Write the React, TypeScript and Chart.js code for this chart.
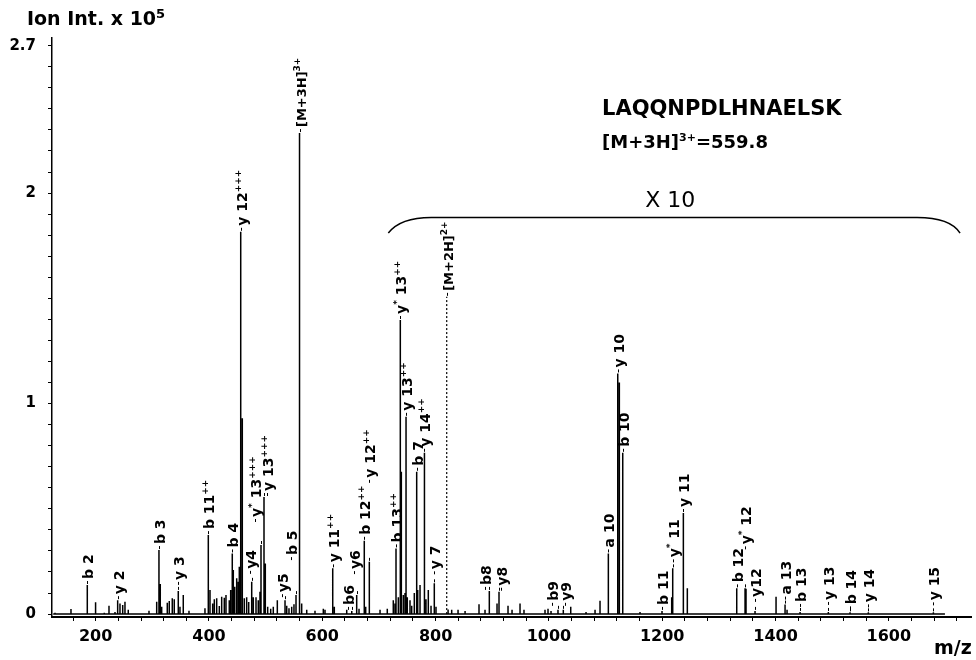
import { useEffect, useRef } from "react";
import { Chart, registerables } from "chart.js";

Chart.register(...registerables);

// Peptide and precursor ions
const PEPTIDE = "LAQQNPDLHNAELSK";
const PRECURSOR_3PLUS_MZ = 559.8;
const PRECURSOR_3PLUS_INT = 2.285;
const PRECURSOR_2PLUS_MZ = 819.6;
const PRECURSOR_2PLUS_INT = 1.507;

// Spectrum extent (baseline)
const SPECTRUM_START = 125;
const SPECTRUM_END = 1699;

// Centroided peaks: m/z and intensity (x 10^5); above m/z ~716 intensities are shown x10
const peakMz = [
  128.2, 156.4, 185.2, 198.8, 200.5, 215.2, 223.5, 234.1, 238.8, 242.9, 247.7, 251.7, 257.5,
  294.1, 307.7, 311.7, 314.0, 316.5, 326.4, 329.9, 335.2, 338.7, 345.8, 348.8, 354.6, 364.7,
  392.9, 398.8, 401.8, 406.5, 409.4, 413.6, 418.2, 422.4, 427.0, 430.0, 435.8, 438.3, 441.1,
  442.9, 445.4, 448.9, 451.7, 453.5, 456.0, 458.8, 462.3, 466.5, 470.1, 475.4, 478.2, 483.0,
  487.0, 490.0, 491.8, 497.1, 499.4, 503.6, 508.9, 513.5, 520.6, 534.2, 537.2, 541.2, 546.0,
  550.0, 553.6, 559.8, 563.6, 572.5, 587.1, 601.8, 604.8, 618.4, 621.2, 643.1, 652.0, 660.7,
  664.8, 674.1, 676.6, 683.0, 701.9, 714.7, 725.3, 728.3, 730.1, 734.2, 737.7, 739.5, 743.0,
  746.0, 747.8, 750.0, 754.8, 757.8, 762.4, 766.6, 768.4, 772.5, 780.3, 783.0, 787.1, 791.9,
  797.7, 800.7, 822.0, 828.4, 839.6, 852.0, 876.6, 887.2, 894.8, 908.4, 911.9, 927.8, 934.9,
  949.0, 956.0, 993.1, 998.4, 1003.7, 1016.0, 1025.4, 1038.5, 1065.5, 1081.4, 1090.2, 1104.9,
  1121.5, 1124.3, 1130.3, 1160.8, 1199.6, 1216.7, 1218.5, 1237.3, 1244.3, 1331.5, 1346.2,
  1347.9, 1363.8, 1400.9, 1416.8, 1420.3, 1443.3, 1493.2, 1531.5, 1563.8, 1678.6,
];
const peakInt = [
  0.006, 0.024, 0.138, 0.056, 0.02, 0.006, 0.04, 0.01, 0.066, 0.05, 0.043, 0.058, 0.02,
  0.016, 0.058, 0.304, 0.143, 0.035, 0.054, 0.062, 0.075, 0.07, 0.11, 0.035, 0.09, 0.016,
  0.027, 0.375, 0.114, 0.05, 0.07, 0.075, 0.038, 0.082, 0.078, 0.09, 0.066, 0.114, 0.288,
  0.209, 0.13, 0.17, 0.153, 0.225, 1.816, 0.93, 0.075, 0.08, 0.057, 0.153, 0.08, 0.08,
  0.066, 0.106, 0.328, 0.556, 0.24, 0.035, 0.025, 0.035, 0.066, 0.066, 0.04, 0.027, 0.035,
  0.047, 0.09, PRECURSOR_3PLUS_INT, 0.05, 0.02, 0.016, 0.025, 0.02, 0.217, 0.035, 0.02, 0.015, 0.09,
  0.025, 0.348, 0.035, 0.248, 0.02, 0.025, 0.066, 0.05, 0.312, 0.08, 1.397, 0.676, 0.09,
  0.1, 0.937, 0.08, 0.066, 0.04, 0.1, 0.676, 0.114, 0.138, 0.766, 0.07, 0.114, 0.04,
  0.146, 0.035, 0.022, 0.02, 0.02, 0.015, 0.047, 0.02, 0.11, 0.05, 0.106, 0.04, 0.02,
  0.05, 0.02, 0.02, 0.025, 0.015, 0.02, 0.02, 0.035, 0.01, 0.02, 0.063, 0.288,
  1.143, 1.1, 0.766, 0.01, 0.015, 0.08, 0.217, 0.48, 0.122, 0.122, 0.122,
  0.12, 0.015, 0.082, 0.045, 0.02, 0.01, 0.01, 0.008, 0.008, 0.008,
];

// Fragment annotations ({...} = superscript)
const labelMz = [
  185.2, 238.8, 311.7, 345.8, 398.8, 441.1, 456.0, 475.4, 491.8, 497.1, 534.2, 553.6,
  PRECURSOR_3PLUS_MZ, 618.4, 652.0, 660.7, 674.1, 683.0, 730.1, 737.7, 747.8, 766.6, 780.3,
  797.7, PRECURSOR_2PLUS_MZ, 894.8, 911.9, 1016.0, 1025.4, 1104.9, 1121.5, 1130.3, 1199.6,
  1218.5, 1237.3, 1331.5, 1346.2, 1363.8, 1416.8, 1443.3, 1493.2, 1531.5, 1563.8, 1678.6,
];
const labelText = [
  "b 2", "y 2", "b 3", "y 3", "b 11{++}", "b 4", "y 12{+++}", "y4", "y{*} 13{+++}", "y 13{+++}", "y5", "b 5",
  "[M+3H]{3+}", "y 11{++}", "b6", "y6", "b 12{++}", "y 12{++}", "b 13{++}", "y{*} 13{++}", "y 13{++}", "b 7", "y 14{++}",
  "y 7", "[M+2H]{2+}", "b8", "y8", "b9", "y9", "a 10", "y 10", "b 10", "b 11",
  "y{*} 11", "y 11", "b 12", "y{*} 12", "y12", "a 13", "b 13", "y 13", "b 14", "y 14", "y 15",
];

// Axis ticks
const xLabelledTicks = [200, 400, 600, 800, 1000, 1200, 1400, 1600];
const xMinorStep = 40;
const xTickRange = [160, 1720];
const yLabelledTicks = [0, 1, 2, 2.7];
const yMinorStep = 0.1;

// x10 zoom region marked by the bracket
const zoomRegion = [716.5, 1725.7];
const zoomFactorText = "X 10";

const FONT = '"DejaVu Sans", "Liberation Sans", Arial, sans-serif';

type Part = { t: string; sup: boolean };
function splitLabel(label: string): Part[] {
  const out: Part[] = [];
  const re = /\{([^}]*)\}/g;
  let last = 0;
  let m: RegExpExecArray | null;
  while ((m = re.exec(label))) {
    if (m.index > last) out.push({ t: label.slice(last, m.index), sup: false });
    out.push({ t: m[1], sup: true });
    last = re.lastIndex;
  }
  if (last < label.length) out.push({ t: label.slice(last), sup: false });
  return out;
}

function drawRun(
  ctx: CanvasRenderingContext2D,
  parts: Part[],
  x: number,
  y: number,
  size: number,
  supSize: number,
  rise: number,
  weight = "bold"
) {
  for (const p of parts) {
    ctx.font = `${weight} ${p.sup ? supSize : size}px ${FONT}`;
    ctx.fillText(p.t, x, p.sup ? y - rise : y);
    x += ctx.measureText(p.t).width;
  }
  return x;
}

function intensityAt(mz: number) {
  if (mz === PRECURSOR_2PLUS_MZ) return PRECURSOR_2PLUS_INT;
  const i = peakMz.indexOf(mz);
  return i >= 0 ? peakInt[i] : 0;
}

// Vertical "stick" trace: baseline plus one up/down excursion per peak
function stickTrace() {
  const pts: { x: number; y: number }[] = [{ x: SPECTRUM_START, y: 0 }];
  peakMz.forEach((mz, i) => {
    pts.push({ x: mz, y: 0 }, { x: mz, y: peakInt[i] }, { x: mz, y: 0 });
  });
  pts.push({ x: SPECTRUM_END, y: 0 });
  return pts;
}

// Label placement tweaks (px): lift above the peak, sideways nudge to clear neighbours
const labelLiftPx: Record<string, number> = {
  "y 3": 5, "y4": 7, "y{*} 13{+++}": 22, "y5": 2, "b 5": 34, "y6": 20, "y 12{++}": 78,
  "y 7": 8, "b9": 3, "y9": 3, "y{*} 11": 5, "y{*} 12": 38, "y12": 8, "a 13": 4,
  "b 13": 4, "y 13": 6, "b 14": 2, "y 14": 4, "y 15": 6,
};
const labelNudgePx: Record<string, number> = {
  "y4": -2, "y{*} 13{+++}": -6, "y 13{+++}": 3, "y5": -3, "b 5": -5, "b6": -4, "y6": -3,
  "b8": -4, "y8": 2, "b9": -6, "y9": 2,
};

const peakLabels = {
  id: "peakLabels",
  afterDatasetsDraw(chart: any) {
    const { ctx, scales } = chart;
    const xs = scales.x;
    const ys = scales.y;
    ctx.save();
    ctx.fillStyle = "#000";
    ctx.strokeStyle = "#000";
    ctx.lineWidth = 1;
    ctx.textAlign = "left";
    ctx.textBaseline = "alphabetic";
    labelMz.forEach((mz, i) => {
      const text = labelText[i];
      const px = Math.round(xs.getPixelForValue(mz)) + 0.5;
      const py = ys.getPixelForValue(intensityAt(mz));
      const lift = labelLiftPx[text] || 0;
      const nudge = labelNudgePx[text] || 0;
      const isPrecursor = text.startsWith("[");
      ctx.save();
      ctx.translate(px, py);
      ctx.rotate(-Math.PI / 2);
      ctx.beginPath();
      ctx.moveTo(1, 0);
      ctx.lineTo(4, 0);
      if (lift || nudge) {
        ctx.moveTo(1 + lift, nudge);
        ctx.lineTo(4 + lift, nudge);
      }
      ctx.stroke();
      drawRun(ctx, splitLabel(text), 6 + lift, 5 + nudge, isPrecursor ? 13 : 14, 9, 6);
      ctx.restore();
    });
    ctx.restore();
  },
};

const annotations = {
  id: "annotations",
  afterDraw(chart: any) {
    const { ctx, scales } = chart;
    const xs = scales.x;
    const ys = scales.y;
    ctx.save();
    ctx.fillStyle = "#000";
    ctx.strokeStyle = "#000";
    ctx.textAlign = "left";
    ctx.textBaseline = "alphabetic";

    // Y axis title
    drawRun(ctx, splitLabel("Ion Int. x 10{5}"), 27, 25, 19, 13, 7);
    // X axis title
    drawRun(ctx, [{ t: "m/z", sup: false }], 934, 654, 19, 12, 6);

    // Peptide and precursor
    drawRun(ctx, [{ t: PEPTIDE, sup: false }], 602, 115, 21, 12, 7);
    drawRun(
      ctx,
      splitLabel(`[M+3H]{3+}=${PRECURSOR_3PLUS_MZ.toFixed(1)}`),
      602,
      147.5,
      18,
      11,
      7
    );

    // Bracket over the x10 region
    const x0 = xs.getPixelForValue(zoomRegion[0]);
    const x1 = xs.getPixelForValue(zoomRegion[1]);
    const yl = ys.getPixelForValue(1.884);
    const yd = ys.getPixelForValue(1.81);
    ctx.lineWidth = 1.5;
    ctx.beginPath();
    ctx.moveTo(x0, yd);
    ctx.quadraticCurveTo(x0 + 12, yl, x0 + 43, yl);
    ctx.lineTo(x1 - 43, yl);
    ctx.quadraticCurveTo(x1 - 10, yl, x1, yd);
    ctx.stroke();

    ctx.textAlign = "center";
    ctx.font = `normal 22px ${FONT}`;
    ctx.fillText(zoomFactorText, xs.getPixelForValue(1214), ys.getPixelForValue(1.933));
    ctx.restore();
  },
};

function xTicks() {
  const out: { value: number }[] = [];
  for (let v = xTickRange[0]; v <= xTickRange[1]; v += xMinorStep) out.push({ value: v });
  return out;
}
function yTicks() {
  const out: { value: number }[] = [];
  const last = yLabelledTicks[yLabelledTicks.length - 1];
  for (let i = 0; i * yMinorStep <= last + 1e-9; i++) out.push({ value: Math.round(i * yMinorStep * 10) / 10 });
  return out;
}

export default function App() {
  const ref = useRef<HTMLCanvasElement>(null);

  useEffect(() => {
    const canvas = ref.current;
    if (!canvas) return;
    const chart = new Chart(canvas, {
      type: "scatter",
      data: {
        datasets: [
          {
            data: stickTrace(),
            showLine: true,
            borderColor: "#000",
            borderWidth: 1.5,
            pointRadius: 0,
            tension: 0,
          },
          {
            data: [
              { x: PRECURSOR_2PLUS_MZ, y: 0 },
              { x: PRECURSOR_2PLUS_MZ, y: PRECURSOR_2PLUS_INT },
            ],
            showLine: true,
            borderColor: "#000",
            borderWidth: 1.2,
            borderDash: [2, 2],
            pointRadius: 0,
          },
        ],
      } as any,
      options: {
        responsive: false,
        maintainAspectRatio: false,
        devicePixelRatio: 1,
        animation: false,
        events: [],
        layout: { padding: { top: 38, right: 5, left: 0, bottom: 0 } },
        plugins: { legend: { display: false }, tooltip: { enabled: false } },
        scales: {
          x: {
            type: "linear",
            min: 122.9,
            max: 1745,
            afterFit: (s: any) => {
              s.height = 43;
            },
            afterBuildTicks: (s: any) => {
              s.ticks = xTicks();
            },
            ticks: {
              autoSkip: false,
              maxRotation: 0,
              padding: 6,
              color: "#000",
              font: { family: FONT, size: 16, weight: "bold" },
              callback: (v: any) => (xLabelledTicks.includes(Number(v)) ? String(v) : ""),
            },
            grid: { drawOnChartArea: false, drawTicks: true, tickLength: 4, color: "#000", lineWidth: 1 },
            border: { display: true, color: "#000", width: 2 },
          },
          y: {
            type: "linear",
            min: -0.014,
            max: 2.7366,
            afterFit: (s: any) => {
              s.width = 52;
            },
            afterBuildTicks: (s: any) => {
              s.ticks = yTicks();
            },
            ticks: {
              autoSkip: false,
              padding: 12,
              color: "#000",
              font: { family: FONT, size: 15, weight: "bold" },
              callback: (v: any) => (yLabelledTicks.includes(Number(v)) ? String(v) : ""),
            },
            grid: { drawOnChartArea: false, drawTicks: true, tickLength: 4, color: "#000", lineWidth: 1 },
            border: { display: true, color: "#000", width: 1.5 },
          },
        },
      } as any,
      plugins: [peakLabels, annotations],
    });
    return () => chart.destroy();
  }, []);

  return (
    <div style={{ position: "absolute", left: 0, top: 0, width: 976, height: 660, background: "#fff" }}>
      <canvas ref={ref} width={976} height={660} style={{ display: "block", width: 976, height: 660 }} />
    </div>
  );
}
